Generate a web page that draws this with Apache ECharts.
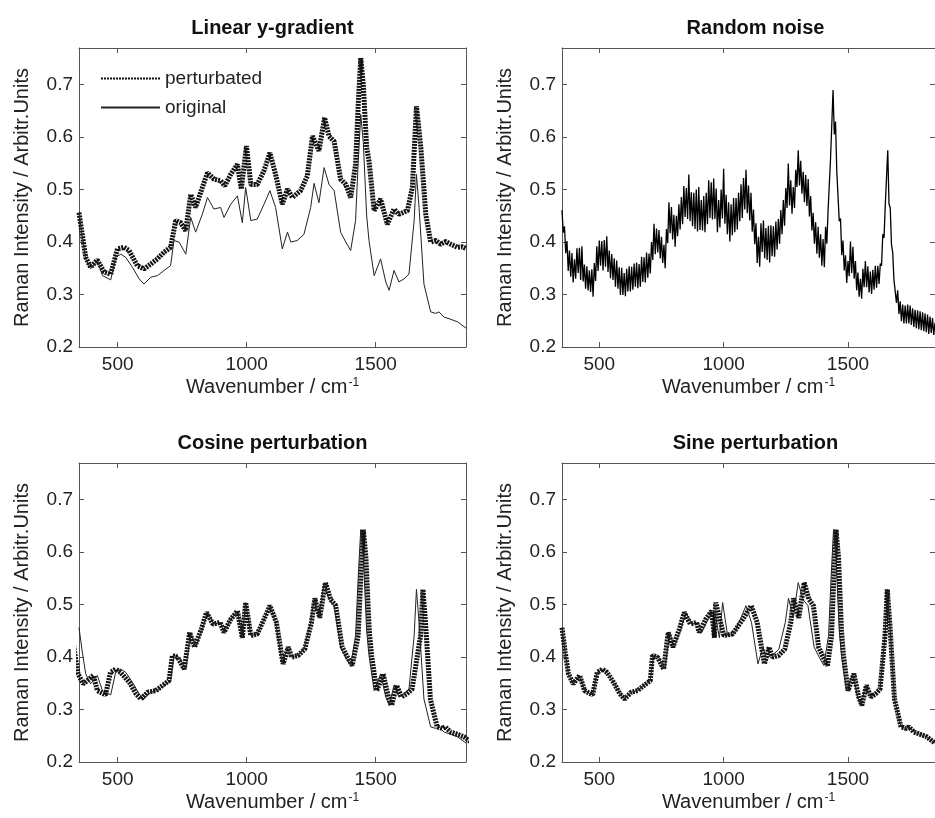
<!DOCTYPE html>
<html lang="en">
<head>
  <meta charset="UTF-8">
  <title>Raman spectra perturbations</title>
  <script src="https://cdn.jsdelivr.net/npm/echarts@6.0.0/dist/echarts.min.js"></script>
  <style>html,body{margin:0;padding:0;background:#fff;overflow:hidden}</style>
</head>

<body>
<div id="main" style="width:935px;height:818px"></div>
<script type="text/javascript">
  // original spectrum (wavenumber / intensity)
  var origX = [350,363,376,395,421,441,473,492,512,531,557,583,602,628,654,680,705,718,738,764,
    783,802,828,848,873,899,912,938,964,983,996,1016,1041,1067,1090,1112,1138,1158,1171,1196,
    1222,1248,1261,1280,1300,1319,1339,1364,1384,1403,1422,1432,1442,1452,1465,1474,1494,1519,1539,1552,
    1571,1590,1610,1629,1649,1658,1668,1687,1713,1733,1745,1765,1784,1817,1850];
  var origY = [0.456,0.409,0.368,0.349,0.365,0.336,0.328,0.371,0.377,0.371,0.352,0.330,0.320,0.333,0.336,0.346,0.355,0.403,0.400,0.377,
    0.447,0.419,0.453,0.485,0.463,0.466,0.447,0.472,0.488,0.437,0.504,0.441,0.444,0.472,0.498,0.466,0.387,0.419,0.400,0.403,
    0.415,0.466,0.512,0.475,0.542,0.510,0.498,0.419,0.400,0.384,0.441,0.550,0.643,0.590,0.450,0.403,0.336,0.368,0.324,0.308,
    0.346,0.324,0.330,0.339,0.441,0.529,0.466,0.320,0.267,0.264,0.267,0.257,0.254,0.248,0.236];

  // linear y-gradient perturbation
  var gradX = [350,376,395,421,447,473,499,525,544,576,602,628,654,680,705,725,744,764,783,802,
    828,848,873,899,915,938,964,979,999,1016,1041,1067,1090,1112,1138,1158,1177,1209,1235,1255,
    1280,1302,1319,1339,1364,1384,1403,1422,1432,1442,1452,1465,1474,1494,1519,1545,1571,1590,1623,1642,
    1658,1675,1694,1713,1733,1752,1771,1791,1817,1836,1850];
  var gradY = [0.456,0.371,0.352,0.366,0.343,0.339,0.387,0.390,0.384,0.355,0.349,0.358,0.368,0.381,0.390,0.441,0.437,0.422,0.491,0.466,
    0.504,0.532,0.520,0.517,0.507,0.529,0.548,0.501,0.583,0.510,0.510,0.536,0.570,0.529,0.472,0.501,0.485,0.498,0.526,0.602,
    0.574,0.637,0.602,0.592,0.520,0.510,0.485,0.548,0.660,0.751,0.700,0.580,0.555,0.460,0.482,0.434,0.463,0.453,0.460,0.504,
    0.659,0.580,0.453,0.400,0.403,0.396,0.401,0.396,0.390,0.391,0.388];

  // random noise, sampled every 5 cm-1 from 350 (one row = 100 cm-1)
  var noiseStart = 350, noiseStep = 5;
  var noiseY = [
    .461,.418,.43,.379,.402,.345,.384,.334,.379,.323,.367,.33,.388,.341,.389,.328,.392,.325,.357,.311,
    .354,.308,.346,.305,.348,.296,.36,.326,.392,.345,.403,.355,.402,.346,.404,.353,.411,.343,.384,.331,
    .377,.328,.369,.315,.365,.311,.352,.299,.351,.299,.341,.297,.349,.306,.354,.306,.353,.309,.359,.315,
    .361,.312,.358,.315,.372,.324,.371,.323,.38,.332,.378,.34,.40,.366,.435,.377,.426,.38,.423,.369,
    .41,.36,.395,.35,.425,.398,.476,.417,.467,.405,.452,.391,.45,.411,.472,.424,.486,.434,.507,.448,
    .503,.444,.529,.44,.495,.43,.494,.425,.50,.42,.505,.423,.48,.422,.488,.419,.494,.434,.518,.446,
    .514,.443,.521,.444,.502,.419,.48,.428,.50,.445,.54,.435,.49,.415,.476,.401,.472,.413,.484,.419,
    .484,.424,.494,.44,.51,.446,.522,.462,.538,.455,.508,.441,.494,.42,.462,.396,.436,.36,.41,.353,
    .436,.381,.441,.369,.427,.366,.431,.361,.432,.373,.43,.372,.439,.386,.444,.397,.461,.415,.48,.431,
    .503,.465,.55,.47,.518,.454,.505,.465,.538,.505,.575,.508,.555,.492,.534,.476,.528,.469,.52,.449,
    .488,.422,.456,.397,.438,.378,.429,.37,.415,.355,.406,.352,.429,.397,.46,.46,.56,.56,.69,.605,
    .63,.535,.535,.44,.445,.375,.403,.346,.375,.322,.364,.335,.401,.341,.391,.33,.364,.308,.342,.296,
    .33,.292,.349,.314,.364,.314,.354,.304,.344,.301,.347,.309,.355,.313,.355,.32,.359,.355,.415,.408,
    .47,.473,.575,.473,.465,.395,.38,.328,.33,.284,.308,.263,.287,.249,.281,.245,.279,.245,.281,.245,
    .279,.242,.274,.238,.271,.236,.27,.234,.268,.232,.266,.23,.264,.228,.262,.225,.258,.227,.255,.223,
    .246];

  // shifted wavenumbers of the cosine / sine perturbed spectra (intensities = origY)
  var cosX = [320,333,346,367,406,421,453,472,492,511,545,571,590,616,648,674,699,712,732,758,
    779,798,824,844,869,897,912,938,964,983,996,1016,1041,1067,1090,1115,1141,1161,1174,1199,
    1225,1251,1264,1283,1305,1325,1345,1370,1390,1409,1432,1442,1452,1462,1475,1484,1504,1529,1549,1562,
    1581,1600,1620,1641,1674,1683,1693,1712,1738,1758,1770,1790,1809,1842,1875];
  var sineX = [350,363,376,395,421,441,473,492,512,531,557,583,602,628,654,680,705,714,734,759,
    777,796,822,842,866,891,902,928,952,963,968,1001,1036,1077,1111,1135,1164,1183,1196,1221,
    1246,1270,1281,1302,1324,1343,1361,1382,1400,1418,1434,1443,1452,1462,1474,1482,1500,1524,1543,1556,
    1574,1592,1611,1629,1649,1658,1668,1687,1713,1733,1745,1765,1784,1817,1850];

  var tickX = [500, 1000, 1500];
  var tickY = [0.2, 0.3, 0.4, 0.5, 0.6, 0.7];
  var titles = ['Linear y-gradient', 'Random noise', 'Cosine perturbation', 'Sine perturbation'];

  var font = '"Liberation Sans", Arial, sans-serif';
  var boxes = [[79, 48], [562, 48], [79, 463], [562, 463]];
  var W = 387, H = 299;
  var axisColor = '#555';

  function zip(xs, ys) {
    return xs.map(function (x, i) { return [x, ys[i]]; });
  }

  var grids = [], xAxes = [], yAxes = [], graphics = [];
  boxes.forEach(function (b, i) {
    grids.push({left: b[0], top: b[1], width: W, height: H});
    graphics.push({
      type: 'text', x: b[0] + W / 2, y: b[1] - 20,
      style: {text: titles[i], fontFamily: font, fontSize: 20, fontWeight: 'bold', fill: '#111',
        textAlign: 'center', textVerticalAlign: 'middle'}
    });
  });
  // bottom / left axes carry labels
  boxes.forEach(function (b, i) {
    xAxes.push({
      gridIndex: i, type: 'value', min: 350, max: 1850, position: 'bottom',
      name: 'Wavenumber / cm{sup|-1}', nameLocation: 'middle', nameGap: 30,
      nameTextStyle: {fontFamily: font, fontSize: 20, color: '#222',
        rich: {sup: {fontFamily: font, fontSize: 12, color: '#222', verticalAlign: 'top', padding: [0, 0, 6, 1]}}},
      axisLine: {lineStyle: {color: axisColor}},
      axisTick: {inside: true, length: 5, customValues: tickX, lineStyle: {color: axisColor}},
      axisLabel: {customValues: tickX, fontFamily: font, fontSize: 19, color: '#222', margin: 8,
        formatter: function (v) { return String(v); }},
      splitLine: {show: false}
    });
    yAxes.push({
      gridIndex: i, type: 'value', min: 0.2, max: 0.77, position: 'left',
      name: 'Raman Intensity / Arbitr.Units', nameLocation: 'middle', nameGap: 47, nameRotate: 90,
      nameTextStyle: {fontFamily: font, fontSize: 20, color: '#222'},
      axisLine: {show: true, lineStyle: {color: axisColor}},
      axisTick: {show: true, inside: true, length: 5, customValues: tickY, lineStyle: {color: axisColor}},
      axisLabel: {customValues: tickY, fontFamily: font, fontSize: 19, color: '#222', margin: 6,
        formatter: function (v) { return v.toFixed(1); }},
      splitLine: {show: false}
    });
  });
  // top / right axes: box with mirrored ticks
  boxes.forEach(function (b, i) {
    xAxes.push({
      gridIndex: i, type: 'value', min: 350, max: 1850, position: 'top',
      axisLine: {lineStyle: {color: axisColor}},
      axisTick: {inside: true, length: 5, customValues: tickX, lineStyle: {color: axisColor}},
      axisLabel: {show: false}, splitLine: {show: false}
    });
    yAxes.push({
      gridIndex: i, type: 'value', min: 0.2, max: 0.77, position: 'right',
      axisLine: {show: true, lineStyle: {color: axisColor}},
      axisTick: {show: true, inside: true, length: 5, customValues: tickY, lineStyle: {color: axisColor}},
      axisLabel: {show: false}, splitLine: {show: false}
    });
  });

  var thick = {width: 5, color: '#111', type: [2, 1], cap: 'butt'};
  var thin = {width: 1, color: '#222'};
  var noisy = {width: 1.3, color: '#000'};

  function line(name, idx, data, style) {
    return {
      name: name, type: 'line', xAxisIndex: idx, yAxisIndex: idx,
      data: data, symbol: 'none', showSymbol: false, lineStyle: style,
      itemStyle: {color: style.color}, clip: true, silent: true
    };
  }

  var series = [
    line('perturbated', 0, zip(gradX, gradY), thick),
    line('original', 0, zip(origX, origY), thin),
    line('noisy', 1, noiseY.map(function (y, i) { return [noiseStart + i * noiseStep, y]; }), noisy),
    line('cosine', 2, zip(cosX, origY), thick),
    line('original', 2, zip(origX, origY), thin),
    line('sine', 3, zip(sineX, origY), thick),
    line('original', 3, zip(origX, origY), thin)
  ];

  var myChart = echarts.init(document.getElementById('main'));
  var option = {
    animation: false,
    backgroundColor: '#fff',
    grid: grids,
    xAxis: xAxes,
    yAxis: yAxes,
    legend: {
      data: ['perturbated', 'original'],
      orient: 'vertical', left: 95, top: 64,
      itemWidth: 59, itemHeight: 14, itemGap: 10, selectedMode: false,
      itemStyle: {color: 'rgba(0,0,0,0)', borderWidth: 0, opacity: 0},
      textStyle: {fontFamily: font, fontSize: 19, color: '#222'}
    },
    graphic: graphics,
    series: series
  };
  option && myChart.setOption(option);
</script>
</body>
</html>
